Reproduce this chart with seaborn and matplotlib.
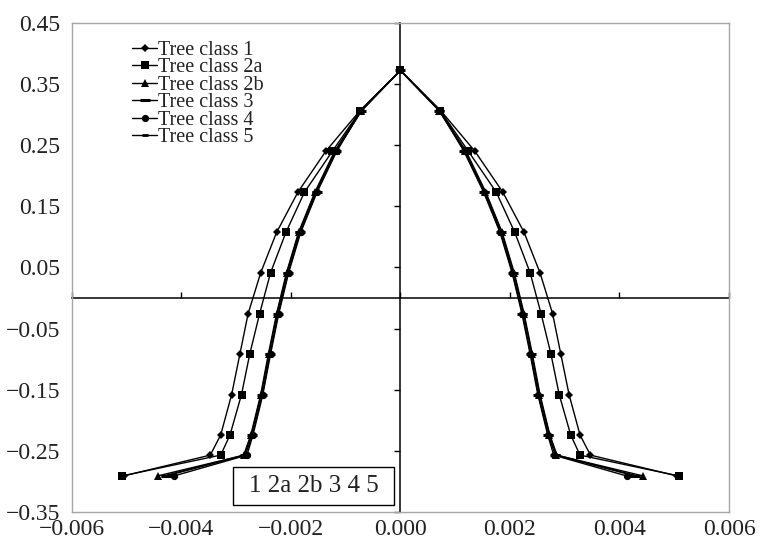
import numpy as np
import pandas as pd
import matplotlib
matplotlib.use("Agg")
import matplotlib.pyplot as plt
from matplotlib.patches import Rectangle
import seaborn as sns

# ---- data ----
levels = [0.372, 0.306, 0.240, 0.173, 0.107, 0.041, -0.026, -0.092, -0.158, -0.224, -0.257, -0.291]

classes = ["Tree class 1", "Tree class 2a", "Tree class 2b", "Tree class 3", "Tree class 4", "Tree class 5"]

r_class1 = [0, 0.00074, 0.00136, 0.00187, 0.00226, 0.00255, 0.00278, 0.00293, 0.00308, 0.00328, 0.00347, 0.00505]
r_class2a = [0, 0.00073, 0.00124, 0.00175, 0.00209, 0.00237, 0.00257, 0.00275, 0.00290, 0.00311, 0.00328, 0.00508]
r_class2b = [0, 0.00071, 0.00118, 0.00155, 0.00185, 0.00207, 0.00225, 0.00240, 0.00254, 0.00272, 0.00285, 0.00443]
r_class3 = [0, 0.00071, 0.00117, 0.00153, 0.00183, 0.00205, 0.00223, 0.00238, 0.00252, 0.00270, 0.00283, 0.00428]
r_class4 = [0, 0.00072, 0.00116, 0.00152, 0.00182, 0.00204, 0.00222, 0.00237, 0.00251, 0.00269, 0.00280, 0.00413]
r_class5 = [0, 0.00072, 0.00120, 0.00156, 0.00186, 0.00208, 0.00226, 0.00241, 0.00255, 0.00273, 0.00286, 0.00432]

radii = [r_class1, r_class2a, r_class2b, r_class3, r_class4, r_class5]

x_ticks = [-0.006, -0.004, -0.002, 0.000, 0.002, 0.004, 0.006]
y_ticks = [0.45, 0.35, 0.25, 0.15, 0.05, -0.05, -0.15, -0.25, -0.35]
box_text = "1 2a 2b 3 4 5"

# build long table: left branch (bottom -> top), then right branch (top -> bottom)
rows = []
for cls, r in zip(classes, radii):
    n = len(levels)
    order = 0
    for i in range(n - 1, 0, -1):
        rows.append((cls, -r[i], levels[i], order)); order += 1
    rows.append((cls, 0.0, levels[0], order)); order += 1
    for i in range(1, n):
        rows.append((cls, r[i], levels[i], order)); order += 1
df = pd.DataFrame(rows, columns=["cls", "x", "y", "order"])

sns.set_theme(style="white")
plt.rcParams["font.family"] = ["Liberation Serif", "DejaVu Serif"]

fig = plt.figure(figsize=(7.6, 5.45), dpi=100)
pos = [71.7 / 760, 1 - 512 / 545, (729 - 71.7) / 760, (512 - 22.7) / 545]

# center axes (crossing at zero) with tick marks but no labels -- drawn underneath
ax2 = fig.add_axes(pos)
ax2.patch.set_visible(False)
ax2.set_xlim(-0.006, 0.006)
ax2.set_ylim(-0.35, 0.45)
ax2.set_xticks(x_ticks)
ax2.set_yticks(y_ticks)
for name in ["top", "right"]:
    ax2.spines[name].set_visible(False)
for name in ["left", "bottom"]:
    ax2.spines[name].set_visible(True)
    ax2.spines[name].set_position(("data", 0))
    ax2.spines[name].set_color("black")
    ax2.spines[name].set_linewidth(1.1)
ax2.tick_params(axis="y", direction="out", length=4, width=1, color="black", labelleft=False, left=True)
ax2.tick_params(axis="x", direction="in", length=4, width=1, color="black", labelbottom=False, bottom=True)

ax = fig.add_axes(pos)
ax.patch.set_visible(False)

styles = {
    "Tree class 1": dict(marker="D", markersize=4.2, markeredgewidth=0),
    "Tree class 2a": dict(marker="s", markersize=6.0, markeredgewidth=0),
    "Tree class 2b": dict(marker="^", markersize=6.0, markeredgewidth=0),
    "Tree class 3": dict(marker="_", markersize=7.0, markeredgewidth=2.2, markeredgecolor="black"),
    "Tree class 4": dict(marker="o", markersize=5.2, markeredgewidth=0),
    "Tree class 5": dict(marker="_", markersize=5.0, markeredgewidth=2.0, markeredgecolor="black"),
}

for cls in classes:
    sub = df[df["cls"] == cls]
    sns.lineplot(data=sub, x="x", y="y", sort=False, estimator=None, color="black",
                 linewidth=1.0, label=cls, ax=ax, **styles[cls])

ax.set_xlim(-0.006, 0.006)
ax.set_ylim(-0.35, 0.45)
ax.set_xticks(x_ticks)
ax.set_yticks(y_ticks)
ax.set_xticklabels([f"{v:.3f}".replace("-", "\u2212") for v in x_ticks])
ax.set_yticklabels([f"{v:.2f}".replace("-", "\u2212") for v in y_ticks])
ax.tick_params(axis="both", length=0, labelsize=17, colors="#222222")
ax.tick_params(axis="y", pad=8)
ax.tick_params(axis="x", pad=5)
ax.set_xlabel("")
ax.set_ylabel("")
for s in ax.spines.values():
    s.set_visible(True)
    s.set_color("#a6a6a6")
    s.set_linewidth(1.0)

leg = ax.legend(loc="upper left", bbox_to_anchor=(0.0917, 0.963), frameon=False,
                fontsize=14.5, handlelength=1.25, handletextpad=0.05, labelspacing=-0.08,
                borderpad=0, borderaxespad=0)
for t in leg.get_texts():
    t.set_color("#222222")

# text box
bx0 = (233 - 71.7) / 657.3
by0 = (512 - 505) / 489.3
bw = (394 - 233) / 657.3
bh = (505 - 467) / 489.3
ax.add_patch(Rectangle((bx0, by0), bw, bh, transform=ax.transAxes, facecolor="white",
                       edgecolor="black", linewidth=1.0, zorder=5))
ax.text(bx0 + bw / 2, by0 + bh / 2, box_text, transform=ax.transAxes, ha="center", va="center",
        fontsize=18, color="#222222", zorder=6)

fig.savefig("out.png", dpi=100)
